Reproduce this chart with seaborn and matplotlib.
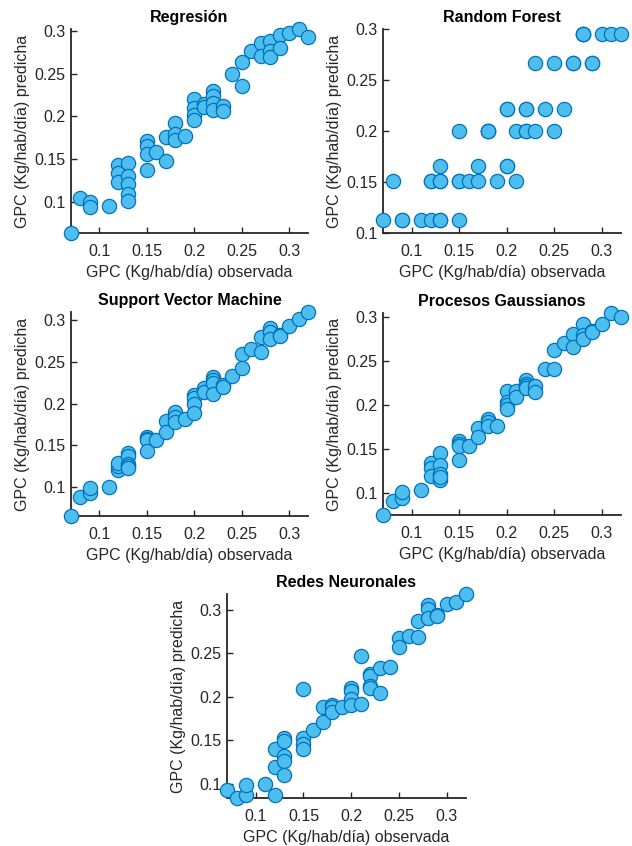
import numpy as np
import pandas as pd
import matplotlib
matplotlib.use("Agg")
import matplotlib.pyplot as plt
from matplotlib.ticker import FuncFormatter, MultipleLocator
import seaborn as sns

# Observed GPC (shared by all models)
observed = [0.07, 0.08, 0.09, 0.09, 0.11,
            0.12, 0.12, 0.12,
            0.13, 0.13, 0.13, 0.13, 0.13,
            0.15, 0.15, 0.15, 0.15,
            0.16, 0.17, 0.17,
            0.18, 0.18, 0.18, 0.19,
            0.20, 0.20, 0.20, 0.20,
            0.21, 0.21,
            0.22, 0.22, 0.22, 0.22,
            0.23, 0.23, 0.24, 0.25, 0.25, 0.26,
            0.27, 0.27, 0.28, 0.28, 0.28,
            0.29, 0.29, 0.30, 0.31, 0.32]

pred_regresion = [0.064, 0.105, 0.100, 0.094, 0.096,
                  0.143, 0.134, 0.124,
                  0.146, 0.131, 0.121, 0.110, 0.101,
                  0.171, 0.165, 0.156, 0.138,
                  0.158, 0.176, 0.148,
                  0.192, 0.180, 0.173, 0.177,
                  0.220, 0.210, 0.202, 0.196,
                  0.214, 0.211,
                  0.230, 0.224, 0.216, 0.208,
                  0.212, 0.206, 0.250, 0.264, 0.236, 0.276,
                  0.286, 0.270, 0.288, 0.276, 0.269,
                  0.295, 0.280, 0.297, 0.302, 0.293]

pred_rf = [0.113, 0.151, 0.113, 0.113, 0.113,
           0.113, 0.151, 0.151,
           0.113, 0.151, 0.166, 0.113, 0.151,
           0.113, 0.151, 0.200, 0.151,
           0.151, 0.166, 0.151,
           0.200, 0.200, 0.200, 0.151,
           0.166, 0.222, 0.222, 0.166,
           0.151, 0.200,
           0.200, 0.222, 0.200, 0.222,
           0.200, 0.267, 0.222, 0.200, 0.267, 0.222,
           0.267, 0.267, 0.295, 0.295, 0.295,
           0.267, 0.267, 0.295, 0.295, 0.295]

pred_svm = [0.066, 0.089, 0.093, 0.099, 0.101,
            0.121, 0.125, 0.129,
            0.141, 0.137, 0.128, 0.125, 0.123,
            0.160, 0.158, 0.156, 0.144,
            0.157, 0.179, 0.166,
            0.190, 0.184, 0.178, 0.181,
            0.210, 0.207, 0.200, 0.189,
            0.218, 0.214,
            0.231, 0.228, 0.225, 0.211,
            0.222, 0.220, 0.233, 0.259, 0.242, 0.265,
            0.279, 0.261, 0.290, 0.285, 0.277,
            0.282, 0.281, 0.292, 0.301, 0.309]

pred_gp = [0.075, 0.091, 0.094, 0.101, 0.103,
           0.134, 0.128, 0.119,
           0.145, 0.132, 0.121, 0.115, 0.118,
           0.159, 0.156, 0.153, 0.137,
           0.153, 0.174, 0.163,
           0.184, 0.180, 0.176, 0.176,
           0.216, 0.203, 0.200, 0.195,
           0.216, 0.209,
           0.228, 0.224, 0.221, 0.219,
           0.221, 0.215, 0.240, 0.262, 0.240, 0.270,
           0.280, 0.266, 0.291, 0.279, 0.274,
           0.284, 0.282, 0.291, 0.304, 0.299]

pred_nn = [0.093, 0.084, 0.088, 0.099, 0.100,
           0.140, 0.119, 0.087,
           0.153, 0.149, 0.132, 0.127, 0.110,
           0.209, 0.153, 0.146, 0.140,
           0.162, 0.188, 0.171,
           0.191, 0.188, 0.183, 0.188,
           0.210, 0.207, 0.197, 0.191,
           0.247, 0.192,
           0.226, 0.224, 0.212, 0.210,
           0.233, 0.204, 0.234, 0.267, 0.257, 0.270,
           0.287, 0.269, 0.305, 0.301, 0.291,
           0.294, 0.293, 0.307, 0.309, 0.318]

titles = ["Regresión", "Random Forest", "Support Vector Machine",
          "Procesos Gaussianos", "Redes Neuronales"]
preds = [pred_regresion, pred_rf, pred_svm, pred_gp, pred_nn]
ylims = [None, (0.1, 0.3), None, None, None]

sns.set_style("ticks")
plt.rcParams['font.family'] = ['Liberation Sans', 'DejaVu Sans']

W, H = 632, 846
fig = plt.figure(figsize=(W / 100, H / 100), dpi=100)

# axes boxes in pixels: left, top, right, bottom
boxes = [(71, 29, 308, 233), (383, 29, 621, 233),
         (71, 312, 308, 516), (383, 313, 621, 515),
         (227, 594, 466, 798)]

fmt = FuncFormatter(lambda v, p: f"{v:g}")
txt_color = "#262626"

for title, pred, box, yl in zip(titles, preds, boxes, ylims):
    l, t, r, b = box
    ax = fig.add_axes([l / W, (H - b) / H, (r - l) / W, (b - t) / H])
    df = pd.DataFrame({"obs": observed, "pred": pred})
    sns.scatterplot(data=df, x="obs", y="pred", ax=ax, s=105,
                    color="#4DBEEE", edgecolor="#0072BD", linewidth=0.9,
                    clip_on=False, zorder=3, legend=False)
    ax.set_xlim(min(observed), max(observed))
    if yl is None:
        ax.set_ylim(min(pred), max(pred))
    else:
        ax.set_ylim(*yl)
    ax.xaxis.set_major_locator(MultipleLocator(0.05))
    ax.yaxis.set_major_locator(MultipleLocator(0.05))
    ax.xaxis.set_major_formatter(fmt)
    ax.yaxis.set_major_formatter(fmt)
    ax.set_xlabel("GPC (Kg/hab/día) observada", fontsize=11.5, color=txt_color, labelpad=4)
    ax.set_ylabel("GPC (Kg/hab/día) predicha", fontsize=11.5, color=txt_color, labelpad=3)
    ax.set_title(title, fontsize=11.5, fontweight="bold", color="black", pad=5)
    ax.tick_params(direction="in", length=4, width=1, colors=txt_color,
                   labelsize=11.5)
    ax.tick_params(axis="x", pad=8)
    ax.tick_params(axis="y", pad=4)
    sns.despine(ax=ax)
    for sp in ("left", "bottom"):
        ax.spines[sp].set_linewidth(1.3)
        ax.spines[sp].set_color(txt_color)

fig.savefig("out.png", dpi=100)
